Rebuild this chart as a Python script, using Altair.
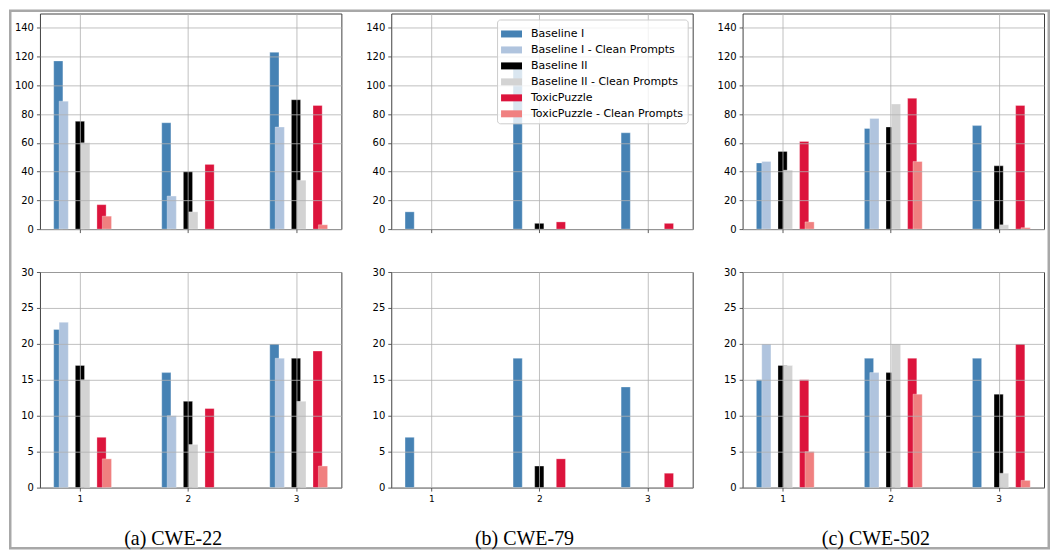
import altair as alt
import pandas as pd

GROUPS = [1, 2, 3]
SERIES = ["Baseline I", "Baseline I - Clean Prompts", "Baseline II",
          "Baseline II - Clean Prompts", "ToxicPuzzle", "ToxicPuzzle - Clean Prompts"]
COLORS = ["#4682b4", "#b0c4de", "#000000", "#d3d3d3", "#dc143c", "#f08080"]
CAPTIONS = ["(a) CWE-22", "(b) CWE-79", "(c) CWE-502"]

# one list per series (in SERIES order), values for groups 1, 2, 3
CWE22_TOP = [[117, 74, 123], [89, 23, 71], [75, 40, 90], [60, 12, 34], [17, 45, 86], [9, 0, 3]]
CWE79_TOP = [[12, 112, 67], [0, 0, 0], [0, 4, 0], [0, 0, 0], [0, 5, 4], [0, 0, 0]]
CWE502_TOP = [[46, 70, 72], [47, 77, 0], [54, 71, 44], [41, 87, 3], [61, 91, 86], [5, 47, 1]]

CWE22_BOTTOM = [[22, 16, 20], [23, 10, 18], [17, 12, 18], [15, 6, 12], [7, 11, 19], [4, 0, 3]]
CWE79_BOTTOM = [[7, 18, 14], [0, 0, 0], [0, 3, 0], [0, 0, 0], [0, 4, 2], [0, 0, 0]]
CWE502_BOTTOM = [[15, 18, 18], [20, 16, 0], [17, 16, 13], [17, 20, 2], [15, 18, 20], [5, 13, 1]]

TOP_TICKS = [0, 20, 40, 60, 80, 100, 120, 140]
BOTTOM_TICKS = [0, 5, 10, 15, 20, 25, 30]

W, H = 302, 216
L, T = 31, 4
SVG_W, SVG_H = 1043, 541
FONT = "DejaVu Sans"


def table(rows):
    recs = []
    for i, (name, vals) in enumerate(zip(SERIES, rows)):
        for g, v in zip(GROUPS, vals):
            recs.append({"group": g, "series": name, "idx": i, "value": v})
    return pd.DataFrame(recs)


def panel(rows, ymax, yticks, row, col):
    df = table(rows)
    xkw = dict(values=GROUPS, grid=True, domain=False, ticks=True, tickSize=3.5,
               labels=(row == 1), labelFontSize=9, labelPadding=3, zindex=1)
    if row == 1:
        xkw.update(title=CAPTIONS[col], titleX=W / 2 - 18, titleY=51,
                   titleFont="Liberation Serif", titleFontSize=20,
                   titleFontWeight="normal", titleColor="black",
                   titleAlign="center", titleBaseline="middle")
    else:
        xkw.update(title=None)
    ykw = dict(values=yticks, grid=True, domain=False, tickSize=3.5,
               labelFontSize=10, labelPadding=3, title=None, zindex=1)
    if row == 0 and col == 1:
        legend = alt.Legend(title=None, orient="top-right", offset=5.5,
                            fillColor="rgba(255,255,255,0.8)", strokeColor="#cccccc",
                            cornerRadius=3, padding=4,
                            symbolType="M-1,-0.333H1V0.333H-1Z", symbolSize=441,
                            symbolStrokeWidth=0, symbolOpacity=1,
                            labelFont=FONT, labelFontSize=11, labelColor="black",
                            labelOffset=9, rowPadding=0, labelLimit=300, zindex=2)
    else:
        legend = None
    bars = alt.Chart(df).transform_filter("datum.value > 0").transform_calculate(
        off="floor(datum.idx / 2) * 0.2 + (datum.idx % 2) * 0.05 - 0.2"
    ).transform_calculate(
        xa="datum.group + datum.off - 0.0425",
        xb="datum.group + datum.off + 0.0425",
    ).mark_bar(stroke="white", strokeWidth=0.6, strokeOpacity=0.5).encode(
        x=alt.X("xa:Q", scale=alt.Scale(domain=[0.63, 3.42], nice=False, zero=False),
                axis=alt.Axis(**xkw)),
        x2="xb:Q",
        y=alt.Y("value:Q", scale=alt.Scale(domain=[0, ymax], nice=False),
                axis=alt.Axis(**ykw)),
        y2=alt.datum(0),
        color=alt.Color("series:N", scale=alt.Scale(domain=SERIES, range=COLORS),
                        legend=legend),
    )
    if row == 0 and col == 0:
        frame = alt.Chart(alt.Data(values=[{}])).mark_rect(
            fillOpacity=0, stroke="#a8a8a8", strokeWidth=2.5, clip=False
        ).encode(
            x=alt.value(-(L - 1.25)), x2=alt.value(SVG_W - L - 1.25),
            y=alt.value(-(T - 1.25)), y2=alt.value(SVG_H - T - 1.25),
        )
        return alt.layer(bars, frame).properties(width=W, height=H)
    return bars.properties(width=W, height=H)


panels = []
for r, (datasets, ymax, ticks) in enumerate([
    ([CWE22_TOP, CWE79_TOP, CWE502_TOP], 150, TOP_TICKS),
    ([CWE22_BOTTOM, CWE79_BOTTOM, CWE502_BOTTOM], 30, BOTTOM_TICKS),
]):
    for c, rows in enumerate(datasets):
        panels.append(panel(rows, ymax, ticks, r, c))

chart = alt.concat(*panels, columns=3, spacing={"row": 43, "column": 50}).properties(
    bounds="flush", padding=0, background="white"
).resolve_legend(color="independent").configure_view(
    stroke="#404040", strokeWidth=1
).configure_axis(
    gridColor="#b0b0b0", gridWidth=0.8, tickColor="#333333", tickWidth=0.8,
    labelFont=FONT, labelColor="black"
)

chart.save("out.html", embed_options={"renderer": "svg", "actions": False})
